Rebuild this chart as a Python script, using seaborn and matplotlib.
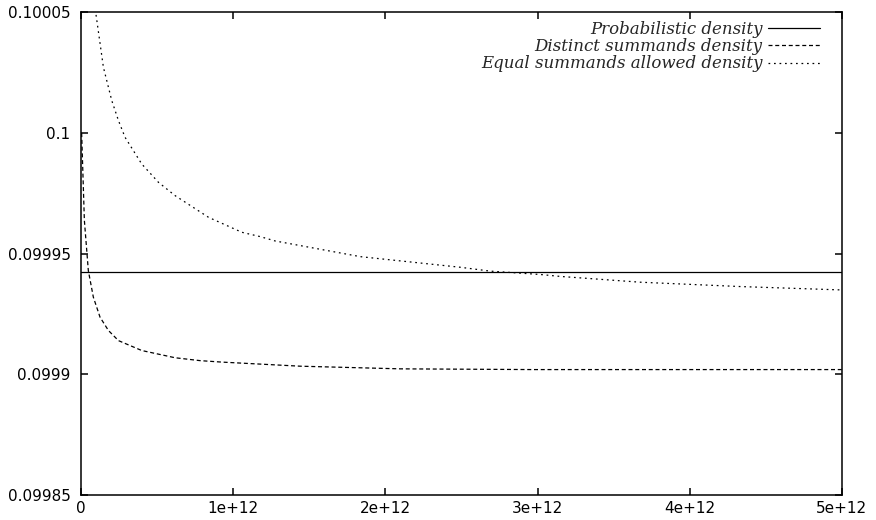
import numpy as np
import pandas as pd
import matplotlib
matplotlib.use("Agg")
import matplotlib.pyplot as plt
import seaborn as sns

# values (x in units of 1e12)
prob_x = [0.0, 5.0]
prob_y = [0.09994263, 0.09994263]

distinct_x = [0.004, 0.022, 0.048, 0.081, 0.125, 0.18, 0.246, 0.399, 0.618,
              0.783, 0.925, 1.441, 2.099, 2.97, 4.14, 5.0]
distinct_y = [0.1000000, 0.0999638, 0.0999430, 0.0999320, 0.0999237, 0.0999182,
              0.0999140, 0.0999099, 0.0999069, 0.0999057, 0.0999051, 0.0999034,
              0.0999023, 0.0999020, 0.0999020, 0.0999020]

equal_x = [0.0987, 0.147, 0.202, 0.246, 0.289, 0.399, 0.509, 0.618, 0.838,
           1.057, 1.178, 1.276, 1.836, 2.493, 2.69, 3.02, 3.151, 3.678, 4.336, 5.0]
equal_y = [0.100049, 0.1000273, 0.1000135, 0.1000052, 0.0999983, 0.0999872,
           0.0999796, 0.0999741, 0.0999651, 0.0999589, 0.0999571, 0.0999553,
           0.0999488, 0.0999444, 0.0999428, 0.0999414, 0.0999406, 0.0999382,
           0.0999364, 0.0999350]

labels = ["Probabilistic density", "Distinct summands density",
          "Equal summands allowed density"]

xticks = [0, 1e12, 2e12, 3e12, 4e12, 5e12]
xticklabels = ["0", "1e+12", "2e+12", "3e+12", "4e+12", "5e+12"]
yticks = [0.09985, 0.0999, 0.09995, 0.1, 0.10005]
yticklabels = ["0.09985", "0.0999", "0.09995", "0.1", "0.10005"]

sns.set_style("ticks")
plt.rcParams["font.family"] = ["DejaVu Sans"]

fig = plt.figure(figsize=(8.76, 5.2), dpi=100)
ax = fig.add_axes([0.0925, 0.048, 0.8685, 0.928])

scale = 1e12
sns.lineplot(x=np.array(prob_x) * scale, y=prob_y, ax=ax, color="black",
             lw=0.9, label=labels[0], estimator=None)
sns.lineplot(x=np.array(distinct_x) * scale, y=distinct_y, ax=ax, color="black",
             lw=0.9, label=labels[1], estimator=None)
sns.lineplot(x=np.array(equal_x) * scale, y=equal_y, ax=ax, color="black",
             lw=0.9, label=labels[2], estimator=None)
ax.lines[1].set_dashes([3.2, 2.2])
ax.lines[2].set_dashes([1.4, 3.0])

ax.set_xlim(0, 5e12)
ax.set_ylim(0.09985, 0.10005)
ax.set_xticks(xticks)
ax.set_xticklabels(xticklabels)
ax.set_yticks(yticks)
ax.set_yticklabels(yticklabels)
ax.set_xlabel("")
ax.set_ylabel("")

for s in ax.spines.values():
    s.set_visible(True)
    s.set_linewidth(1.1)
    s.set_color("black")
ax.tick_params(direction="in", length=5, width=1.1, top=True, right=True,
               labelsize=11, colors="black")
ax.tick_params(axis="x", pad=4)
ax.tick_params(axis="y", pad=7.5)

leg = ax.legend(loc="upper right", frameon=False, markerfirst=False,
                prop={"family": "DejaVu Serif", "style": "italic", "size": 12},
                handlelength=3.1, handletextpad=0.35, labelspacing=0.02,
                borderaxespad=0.1, bbox_to_anchor=(0.982, 1.0))

fig.savefig("out.png", dpi=100, facecolor="white")
